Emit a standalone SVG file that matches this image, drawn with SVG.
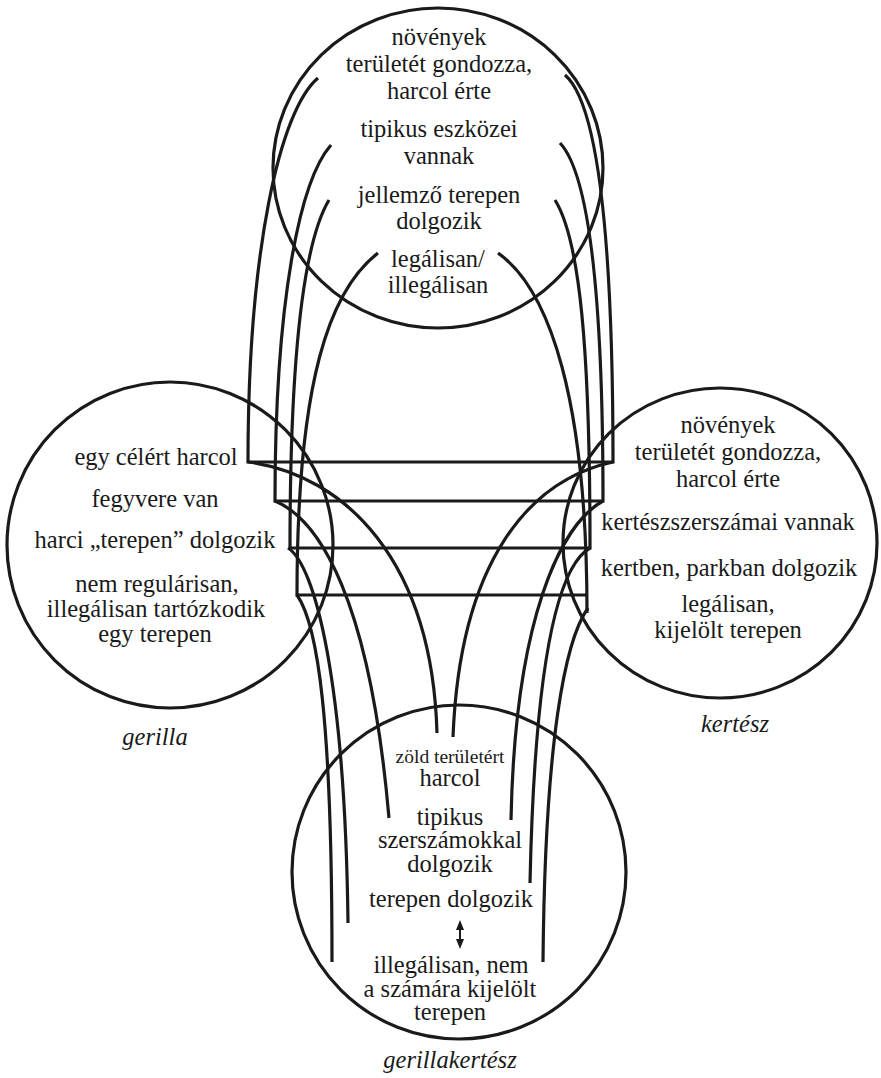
<svg xmlns="http://www.w3.org/2000/svg" width="881" height="1078" viewBox="0 0 881 1078">
<defs>
<style>
.c{fill:none;stroke:#1a1a1a;stroke-width:3.2}
.l{fill:none;stroke:#1a1a1a;stroke-width:3.2}
text{font-family:"Liberation Serif","DejaVu Serif",serif;font-size:24.5px;fill:#1a1a1a;text-anchor:middle}
.it{font-style:italic}
.sm{font-size:19.5px}
</style>
<marker id="ah" viewBox="0 0 10 10" refX="5" refY="5" markerWidth="5" markerHeight="5" orient="auto-start-reverse">
<path d="M0,1 L10,5 L0,9 z" fill="#1a1a1a"/>
</marker>
</defs>
<rect width="881" height="1078" fill="#fff"/>

<g id="connectors">
<path class="l" d="M318,78 C280,110 248,250 248,462 H613 C613,250 600,105 565,75"/>
<path class="l" d="M331,145 C300,180 275,300 275,501 H603 C603,300 590,175 560,143"/>
<path class="l" d="M329,200 C305,240 290,350 290,548 H590 C590,350 580,240 555,200"/>
<path class="l" d="M378,253 C330,290 297,380 297,595 H588"/>
<path class="l" d="M498,253 C550,290 587,400 587,613"/>
<path class="l" d="M248,462 C345,475 432,560 437,733"/>
<path class="l" d="M275,501 C320,520 370,600 389,818"/>
<path class="l" d="M288,548 C315,565 345,680 348,923"/>
<path class="l" d="M297,595 C318,625 332,720 332,962"/>
<path class="l" d="M613,462 C530,480 460,560 453,737"/>
<path class="l" d="M603,501 C560,525 515,620 511,820"/>
<path class="l" d="M590,548 C560,565 535,650 530,883"/>
<path class="l" d="M588,608 C565,640 545,740 543,962"/>
</g>

<g id="generic">
<ellipse class="c" cx="438" cy="168" rx="165" ry="160"/>
<text x="439" y="45">növények</text>
<text x="439" y="72">területét gondozza,</text>
<text x="439" y="99">harcol érte</text>
<text x="439" y="137">tipikus eszközei</text>
<text x="439" y="164">vannak</text>
<text x="439" y="203">jellemző terepen</text>
<text x="439" y="229">dolgozik</text>
<text x="438" y="267">legálisan/</text>
<text x="438" y="293">illegálisan</text>
</g>

<g id="gerilla">
<circle class="c" cx="170" cy="545" r="163"/>
<text x="156" y="465">egy célért harcol</text>
<text x="155" y="507">fegyvere van</text>
<text x="155" y="548">harci „terepen” dolgozik</text>
<text x="157" y="592">nem regulárisan,</text>
<text x="156" y="617">illegálisan tartózkodik</text>
<text x="155" y="642">egy terepen</text>
<text class="it" x="155" y="745">gerilla</text>
</g>

<g id="kertesz">
<ellipse class="c" cx="720" cy="543" rx="157" ry="155"/>
<text x="728" y="433">növények</text>
<text x="728" y="460">területét gondozza,</text>
<text x="728" y="487">harcol érte</text>
<text x="728" y="530">kertészszerszámai vannak</text>
<text x="729" y="576">kertben, parkban dolgozik</text>
<text x="728" y="612">legálisan,</text>
<text x="728" y="638">kijelölt terepen</text>
<text class="it" x="735" y="732">kertész</text>
</g>

<g id="gerillakertesz">
<circle class="c" cx="459" cy="872" r="167"/>
<text class="sm" x="450" y="763">zöld területért</text>
<text x="450" y="786">harcol</text>
<text x="450" y="825">tipikus</text>
<text x="450" y="848">szerszámokkal</text>
<text x="450" y="872">dolgozik</text>
<text x="451" y="907">terepen dolgozik</text>
<line x1="460" y1="925" x2="460" y2="944" stroke="#1a1a1a" stroke-width="2" marker-start="url(#ah)" marker-end="url(#ah)"/>
<text x="451" y="973">illegálisan, nem</text>
<text x="450" y="997">a számára kijelölt</text>
<text x="450" y="1020">terepen</text>
<text class="it" x="450" y="1068">gerillakertész</text>
</g>
</svg>
